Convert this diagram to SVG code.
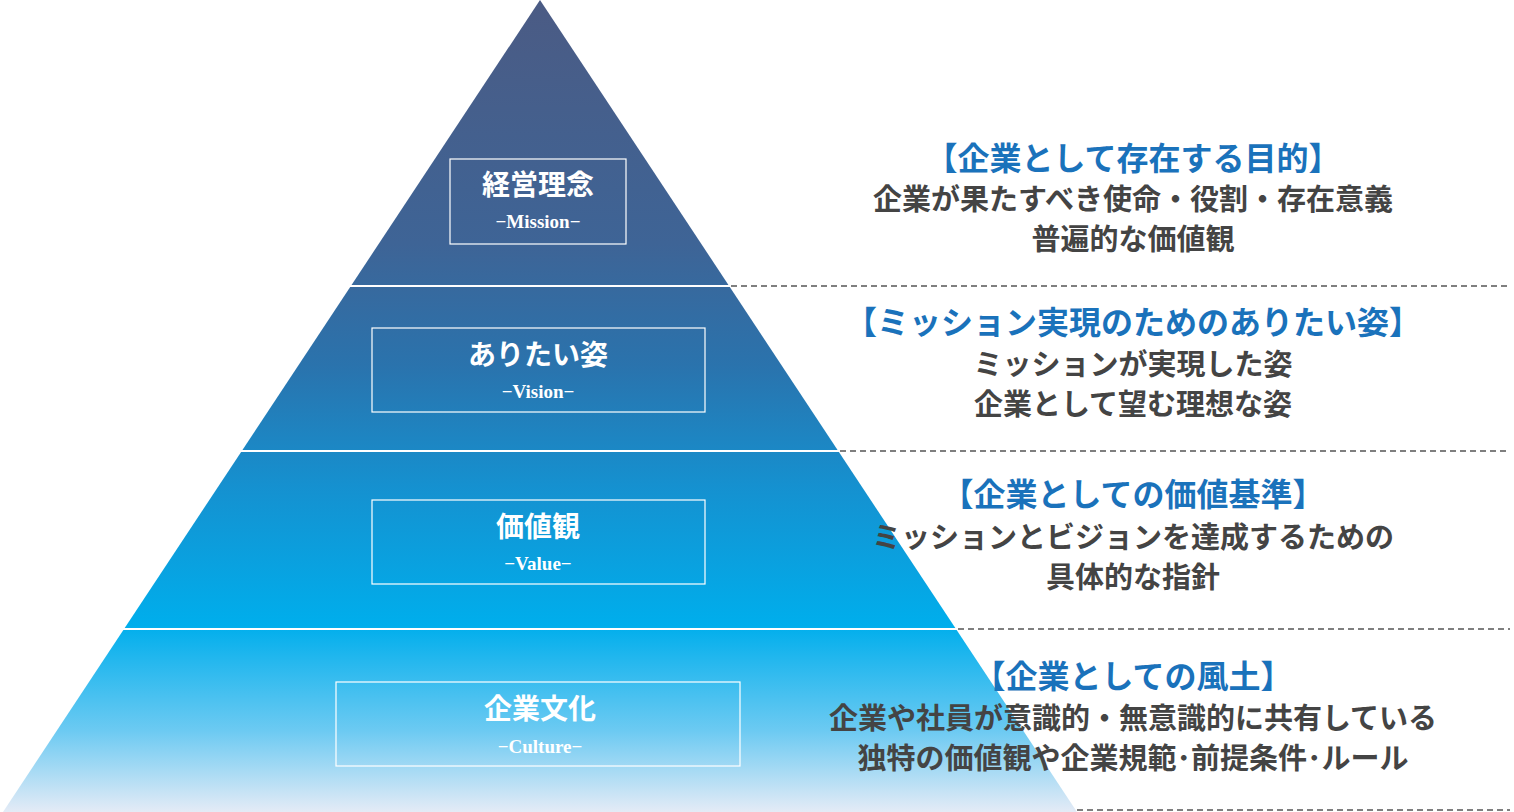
<svg xmlns="http://www.w3.org/2000/svg" width="1514" height="812" viewBox="0 0 1514 812">
<style>
.box{fill:none;stroke:#fff;stroke-width:1.2}
.t{font-family:"Noto Sans CJK JP",sans-serif;font-weight:bold;fill:#fff;font-size:28px;text-anchor:middle}
.s{font-family:"Liberation Serif",serif;font-weight:bold;fill:#fff;font-size:19px;text-anchor:middle}
.h{font-family:"Noto Sans CJK JP",sans-serif;font-weight:bold;fill:#1a72bb;font-size:32px;text-anchor:middle}
.b{font-family:"Noto Sans CJK JP",sans-serif;font-weight:bold;fill:#444;font-size:29px;text-anchor:middle}
.d{stroke:#555;stroke-width:1.5;stroke-dasharray:6 4}
.w{stroke:#fff;stroke-width:2}
</style>
<defs>
<linearGradient id="g" x1="0" y1="0" x2="0" y2="812" gradientUnits="userSpaceOnUse">
<stop offset="0" stop-color="#4b5b84"/>
<stop offset="0.3" stop-color="#3e6496"/>
<stop offset="0.45" stop-color="#2a73ad"/>
<stop offset="0.6" stop-color="#1591d0"/>
<stop offset="0.77" stop-color="#00aeec"/>
<stop offset="0.9" stop-color="#6ccaf2"/>
<stop offset="1" stop-color="#e4ebf6"/>
</linearGradient>
</defs>
<g id="pyramid">
<polygon points="540,0 1077,812 3,812" fill="url(#g)"/>
</g>
<g id="connectors">
<line class="w" x1="349" y1="286" x2="731" y2="286"/>
<line class="w" x1="240" y1="451" x2="840" y2="451"/>
<line class="w" x1="122" y1="629" x2="958" y2="629"/>
<line class="d" x1="731" y1="286" x2="1510" y2="286"/>
<line class="d" x1="840" y1="451" x2="1510" y2="451"/>
<line class="d" x1="958" y1="629" x2="1510" y2="629"/>
<line class="d" x1="1077" y1="810" x2="1510" y2="810"/>
</g>
<g id="mission">
<rect class="box" x="450" y="159" width="176" height="85"/>
<text class="t" x="538" y="195">経営理念</text>
<text class="s" x="538" y="228">−Mission−</text>
</g>
<g id="vision">
<rect class="box" x="372" y="328" width="333" height="84"/>
<text class="t" x="538" y="365">ありたい姿</text>
<text class="s" x="538" y="398">−Vision−</text>
</g>
<g id="value">
<rect class="box" x="372" y="500" width="333" height="84"/>
<text class="t" x="538" y="537">価値観</text>
<text class="s" x="538" y="570">−Value−</text>
</g>
<g id="culture">
<rect class="box" x="336" y="682" width="404" height="84"/>
<text class="t" x="540" y="719">企業文化</text>
<text class="s" x="540" y="753">−Culture−</text>
</g>
<g id="desc1">
<text class="h" x="1133" y="170">【企業として存在する目的】</text>
<text class="b" x="1133" y="210">企業が果たすべき使命・役割・存在意義</text>
<text class="b" x="1133" y="250">普遍的な価値観</text>
</g>
<g id="desc2">
<text class="h" x="1133" y="334">【ミッション実現のためのありたい姿】</text>
<text class="b" x="1133" y="375">ミッションが実現した姿</text>
<text class="b" x="1133" y="415">企業として望む理想な姿</text>
</g>
<g id="desc3">
<text class="h" x="1133" y="506">【企業としての価値基準】</text>
<text class="b" x="1133" y="548">ミッションとビジョンを達成するための</text>
<text class="b" x="1133" y="588">具体的な指針</text>
</g>
<g id="desc4">
<text class="h" x="1133" y="688">【企業としての風土】</text>
<text class="b" x="1133" y="729">企業や社員が意識的・無意識的に共有している</text>
<text class="b" x="1133" y="769">独特の価値観や企業規範･前提条件･ルール</text>
</g>
</svg>
